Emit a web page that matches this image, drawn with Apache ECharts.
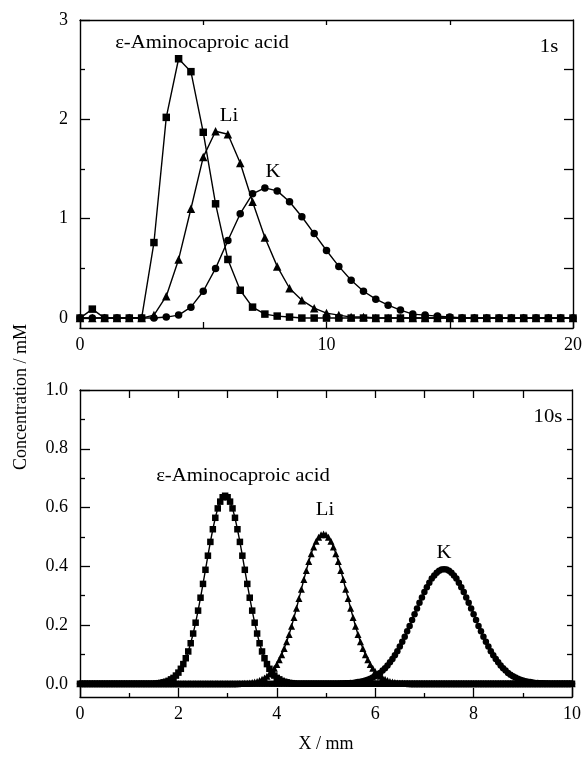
<!DOCTYPE html>
<html>
<head>
<meta charset="utf-8">
<script src="https://cdn.jsdelivr.net/npm/echarts@6/dist/echarts.min.js"></script>
<style>
html, body { margin: 0; padding: 0; background: #fff; }
#chart { width: 585px; height: 759px; }
</style>
</head>
<body>
<div id="chart"></div>
<script>
// 1 s profiles, one point every 0.5 mm
var xTop = [0,0.5,1,1.5,2,2.5,3,3.5,4,4.5,5,5.5,6,6.5,7,7.5,8,8.5,9,9.5,10,
	10.5,11,11.5,12,12.5,13,13.5,14,14.5,15,15.5,16,16.5,17,17.5,18,18.5,19,19.5,20];
var acidTop = [0,0.09,0,0,0,0,0.76,2.02,2.61,2.48,1.87,1.15,0.59,0.28,0.11,0.04,0.02,0.01,
	0,0,0,0,0,0,0,0,0,0,0,0,0,0,0,0,0,0,0,0,0,0,0];
var liTop = [0,0,0,0,0,0,0.03,0.22,0.59,1.10,1.62,1.88,1.85,1.56,1.17,0.81,0.52,0.30,0.18,0.10,
	0.05,0.03,0.01,0.01,0,0,0,0,0,0,0,0,0,0,0,0,0,0,0,0,0];
var kTop = [0,0,0,0,0,0,0,0.01,0.03,0.11,0.27,0.50,0.78,1.05,1.25,1.31,1.28,1.17,1.02,0.85,
	0.68,0.52,0.38,0.27,0.19,0.13,0.08,0.04,0.03,0.02,0.01,0,0,0,0,0,0,0,0,0,0];

// 10 s profiles, one point every 0.05 mm from 0 to 10
var stepBottom = 0.05;
var acidBottom = [
	0,0,0,0,0,0,0,0,0,0,0,0,0,0,0,0,0,0,0,0,
	0,0,0,0,0,0,0,0,0,0,0,
	0.001,0.002,0.003,0.005,0.007,0.010,0.015,0.020,0.028,0.038,0.051,0.067,0.087,0.110,
	0.138,0.171,0.208,0.249,0.293,0.340,0.388,0.436,0.483,0.526,0.565,0.597,0.620,0.635,
	0.640,
	0.635,0.620,0.597,0.565,0.526,0.483,0.436,0.388,0.340,0.293,0.249,0.208,0.171,0.138,
	0.110,0.087,0.067,0.051,0.038,0.028,0.020,0.015,0.010,0.007,0.005,0.003,0.002,0.001,
	0,0,0,0,0,0,0,0,0,0,0,0,0,0,0,0,0,0,0,0,
	0,0,0,0,0,0,0,0,0,0,0,0,0,0,0,0,0,0,0,0,
	0,0,0,0,0,0,0,0,0,0,0,0,0,0,0,0,0,0,0,0,
	0,0,0,0,0,0,0,0,0,0,0,0,0,0,0,0,0,0,0,0,
	0,0,0,0,0,0,0,0,0,0,0,0,0,0,0,0,0,0,0,0,
	0,0,0,0,0,0,0,0,0,0,0,0,0
];
var liBottom = [
	0,0,0,0,0,0,0,0,0,0,0,0,0,0,0,0,0,0,0,0,
	0,0,0,0,0,0,0,0,0,0,0,0,0,0,0,0,0,0,0,0,
	0,0,0,0,0,0,0,0,0,0,0,0,0,0,0,0,0,0,0,0,
	0,0,0,0,0,
	0.001,0.001,0.002,0.002,0.003,0.004,0.006,0.008,0.011,0.015,0.020,0.026,0.033,0.042,
	0.053,0.066,0.082,0.099,0.120,0.143,0.168,0.196,0.226,0.257,0.290,0.322,0.355,0.386,
	0.416,0.443,0.466,0.485,0.499,0.507,
	0.510,
	0.507,0.499,0.485,0.466,0.443,0.416,0.386,0.355,0.322,0.290,0.257,0.226,0.196,0.168,
	0.143,0.120,0.099,0.082,0.066,0.053,0.042,0.033,0.026,0.020,0.015,0.011,0.008,0.006,
	0.004,0.003,0.002,0.002,0.001,0.001,
	0,0,0,0,0,0,0,0,0,0,0,0,0,0,0,0,0,0,0,0,
	0,0,0,0,0,0,0,0,0,0,0,0,0,0,0,0,0,0,0,0,
	0,0,0,0,0,0,0,0,0,0,0,0,0,0,0,0,0,0,0,0,
	0,0,0,0,0,0,0
];
var kBottom = [
	0,0,0,0,0,0,0,0,0,0,0,0,0,0,0,0,0,0,0,0,
	0,0,0,0,0,0,0,0,0,0,0,0,0,0,0,0,0,0,0,0,
	0,0,0,0,0,0,0,0,0,0,0,0,0,0,0,0,0,0,0,0,
	0,0,0,0,0,0,0,0,0,0,0,0,0,0,0,0,0,0,0,0,
	0,0,0,0,0,0,0,0,0,0,0,0,0,0,0,0,0,0,0,0,
	0,0,0,0,0,0,
	0.001,0.001,0.002,0.002,0.003,0.003,0.004,0.006,0.007,0.009,0.011,0.014,0.017,0.021,
	0.026,0.031,0.037,0.045,0.053,0.062,0.073,0.084,0.097,0.111,0.127,0.143,0.160,0.179,
	0.197,0.217,0.237,0.256,0.276,0.294,0.312,0.329,0.344,0.358,0.369,0.378,0.385,0.389,
	0.390,
	0.389,0.385,0.378,0.369,0.358,0.344,0.329,0.312,0.294,0.276,0.256,0.237,0.217,0.197,
	0.179,0.160,0.143,0.127,0.111,0.097,0.084,0.073,0.062,0.053,0.045,0.037,0.031,0.026,
	0.021,0.017,0.014,0.011,0.009,0.007,0.006,0.004,0.003,0.003,0.002,0.002,0.001,0.001,
	0,0,0,0,0,0,0,0,0,0
];

// tick positions and labels
var topXTicks = [0,5,10,15,20];
var topXLabels = [0,10,20];
var topXTopTicks = [5,10,15];
var topYMajor = [0,1,2,3];
var topYMinor = [0.5,1.5,2.5];
var topYRight = [0.5,1,1.5,2,2.5];
var botXMajor = [0,2,4,6,8,10];
var botXMinor = [1,3,5,7,9];
var botXTop = [1,2,3,4,5,6,7,8,9];
var botYMajor = [0,0.2,0.4,0.6,0.8,1.0];
var botYMinor = [0.1,0.3,0.5,0.7,0.9];
var botYRight = [0.1,0.2,0.3,0.4,0.5,0.6,0.7,0.8,0.9];

var FONT = 'Liberation Serif';
var black = '#000';

function pairs(xs, ys) {
	var ret = [];
	for (var i = 0; i < ys.length; i++) ret.push([xs[i], ys[i]]);
	return ret;
}

function stepPairs(step, ys) {
	var ret = [];
	for (var i = 0; i < ys.length; i++) ret.push([+(i * step).toFixed(2), ys[i]]);
	return ret;
}

function tickAxis(o) {
	// one axis that draws ticks (and optionally line / labels)
	return {
		type: 'value',
		gridIndex: o.grid,
		position: o.pos,
		min: o.min,
		max: o.max,
		show: true,
		splitLine: { show: false },
		axisLine: { show: !!o.line, onZero: false, lineStyle: { color: black, width: 1.4 } },
		axisTick: { show: !!o.ticks, inside: true, length: o.len || 5, customValues: o.ticks,
			lineStyle: { color: black, width: 1.3 } },
		axisLabel: o.labels ? { show: true, customValues: o.labels, color: black,
			fontFamily: FONT, fontSize: 18, margin: o.margin || 8, formatter: o.fmt } : { show: false },
		name: o.name,
		nameLocation: 'middle',
		nameGap: o.nameGap,
		nameTextStyle: { color: black, fontFamily: FONT, fontSize: 18 }
	};
}

function lineSeries(name, data, symbol, size, axis) {
	return {
		name: name,
		type: 'line',
		data: data,
		xAxisIndex: axis,
		yAxisIndex: axis,
		symbol: symbol,
		symbolSize: size,
		showSymbol: true,
		showAllSymbol: true,
		lineStyle: { color: black, width: 1.4 },
		itemStyle: { color: black },
		emphasis: { disabled: true },
		animation: false
	};
}

function label(text, x, y, extra) {
	var el = {
		type: 'text', x: x, y: y, scaleX: 1.15,
		style: { text: text, fill: black, font: '18px "' + FONT + '"',
			textAlign: 'center', textVerticalAlign: 'middle' }
	};
	if (extra) for (var k in extra) el[k] = extra[k];
	return el;
}

var topGrid = { left: 80, top: 20, width: 496, height: 308 };
var botGrid = { left: 80, top: 390, width: 492, height: 307 };

var chart = echarts.init(document.getElementById('chart'), null, { renderer: 'canvas' });

chart.setOption({
	animation: false,
	backgroundColor: '#fff',
	grid: [
		Object.assign({}, topGrid),
		Object.assign({}, topGrid),
		Object.assign({}, botGrid),
		Object.assign({}, botGrid)
	],
	xAxis: [
		tickAxis({ grid: 0, pos: 'bottom', min: 0, max: 20, line: true, ticks: topXTicks, len: 6, labels: topXLabels }),
		tickAxis({ grid: 0, pos: 'top', min: 0, max: 20, line: true, ticks: topXTopTicks, len: 5 }),
		tickAxis({ grid: 1, pos: 'bottom', min: 0, max: 20 }),
		tickAxis({ grid: 2, pos: 'bottom', min: 0, max: 10, line: true, ticks: botXMajor, len: 9, labels: botXMajor,
			name: 'X / mm', nameGap: 38 }),
		tickAxis({ grid: 2, pos: 'top', min: 0, max: 10, line: true, ticks: botXTop, len: 8 }),
		tickAxis({ grid: 3, pos: 'bottom', min: 0, max: 10, ticks: botXMinor, len: 4 })
	],
	yAxis: [
		tickAxis({ grid: 0, pos: 'left', min: -0.1, max: 3, line: true, ticks: topYMajor, len: 10, labels: topYMajor, margin: 12 }),
		tickAxis({ grid: 0, pos: 'right', min: -0.1, max: 3, line: true, ticks: topYRight, len: 9 }),
		tickAxis({ grid: 1, pos: 'left', min: -0.1, max: 3, ticks: topYMinor, len: 5 }),
		tickAxis({ grid: 2, pos: 'left', min: -0.045, max: 1, line: true, ticks: botYMajor, len: 10, labels: botYMajor, margin: 12,
			fmt: function(v) { return v.toFixed(1); } }),
		tickAxis({ grid: 2, pos: 'right', min: -0.045, max: 1, line: true, ticks: botYRight, len: 5 }),
		tickAxis({ grid: 3, pos: 'left', min: -0.045, max: 1, ticks: botYMinor, len: 5 })
	],
	series: [
		lineSeries('acid 1s', pairs(xTop, acidTop), 'rect', 7.5, 0),
		lineSeries('Li 1s', pairs(xTop, liTop), 'triangle', 8.5, 0),
		lineSeries('K 1s', pairs(xTop, kTop), 'circle', 7.5, 0),
		lineSeries('acid 10s', stepPairs(stepBottom, acidBottom), 'rect', 6.5, 3),
		lineSeries('Li 10s', stepPairs(stepBottom, liBottom), 'triangle', 7, 3),
		lineSeries('K 10s', stepPairs(stepBottom, kBottom), 'circle', 6.5, 3)
	],
	graphic: [
		label('\u03b5-Aminocaproic acid', 202, 43),
		label('Li', 229, 116),
		label('K', 273, 172),
		label('1s', 549, 47),
		label('\u03b5-Aminocaproic acid', 243, 476),
		label('Li', 325, 510),
		label('K', 444, 553),
		label('10s', 548, 417),
		label('Concentration / mM', 21, 397, { rotation: Math.PI / 2, scaleX: 1 })
	]
});
</script>
</body>
</html>
